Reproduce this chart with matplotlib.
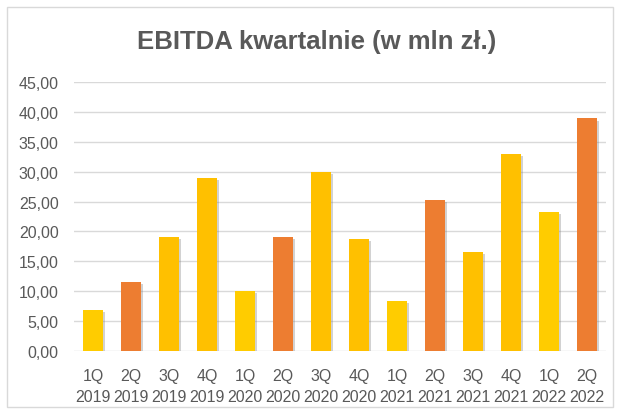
import numpy as np
import matplotlib.pyplot as plt
import matplotlib.patheffects as pe
from matplotlib.patches import Rectangle

# EBITDA kwartalnie (mln zł)
quarters = ['1Q', '2Q', '3Q', '4Q', '1Q', '2Q', '3Q', '4Q', '1Q', '2Q', '3Q', '4Q', '1Q', '2Q']
years = ['2019', '2019', '2019', '2019', '2020', '2020', '2020', '2020',
         '2021', '2021', '2021', '2021', '2022', '2022']
ebitda = [6.8, 11.6, 19.1, 29.0, 10.1, 19.1, 30.0, 18.8, 8.4, 25.3, 16.6, 32.9, 23.3, 38.9]
yticks = [0, 5, 10, 15, 20, 25, 30, 35, 40, 45]

q_colors = {'1Q': '#FFCC00', '2Q': '#ED7D31', '3Q': '#FFC000', '4Q': '#FFC000'}
txt = '#595959'
plt.rcParams['font.family'] = ['Liberation Sans', 'DejaVu Sans']

fig = plt.figure(figsize=(6.19, 4.14), dpi=100)
ax = fig.add_axes([74 / 619, 62 / 414, 532 / 619, 269 / 414])

x = np.arange(len(ebitda))
colors = [q_colors[q] for q in quarters]
bars = ax.bar(x, ebitda, width=0.54, color=colors, zorder=3)
for b in bars:
    b.set_path_effects([pe.SimplePatchShadow(offset=(1.5, -1.5), shadow_rgbFace='#7f7f7f', alpha=0.35),
                        pe.Normal()])

ax.set_xlim(-0.5, len(ebitda) - 0.5)
ax.set_ylim(0, 45)
ax.set_yticks(yticks)
ax.set_yticklabels([f'{v:.2f}'.replace('.', ',') for v in yticks])
ax.set_xticks(x)
ax.set_xticklabels([f'{q}\n{y}' for q, y in zip(quarters, years)], linespacing=1.5)
ax.tick_params(length=0, labelsize=11.5, colors=txt)
ax.tick_params(axis='y', pad=11)
ax.tick_params(axis='x', pad=12)
ax.grid(axis='y', color='#D9D9D9', linewidth=1, zorder=0)
for s in ax.spines.values():
    s.set_visible(False)

fig.text(0.512, 1 - 42 / 414, 'EBITDA kwartalnie (w mln zł.)', ha='center', va='center',
         fontsize=18.5, fontweight='bold', color=txt)
fig.patches.append(Rectangle((7 / 619, 6 / 414), 606 / 619, 400 / 414, transform=fig.transFigure,
                             fill=False, edgecolor='#D9D9D9', linewidth=1))

plt.savefig('out.png', dpi=100)
